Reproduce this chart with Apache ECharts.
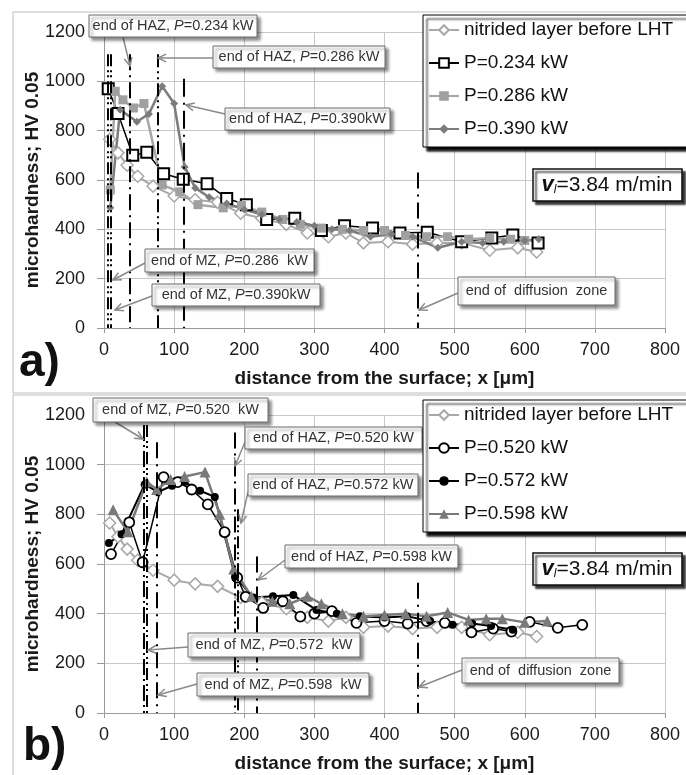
<!DOCTYPE html>
<html><head><meta charset="utf-8">
<script src="https://cdn.jsdelivr.net/npm/echarts@6/dist/echarts.min.js"></script>
<style>html,body{margin:0;padding:0;background:#fff}#c{width:686px;height:775px}</style>
</head><body><div id="c"></div><script>
// ---------- data ----------
const nitX = [8, 20, 33, 48, 70, 100, 130, 162, 195, 225, 260, 290, 320, 345, 370, 405, 440, 475, 510, 550, 590, 617];
const nitY = [765, 710, 660, 615, 575, 535, 520, 510, 465, 445, 420, 385, 370, 385, 345, 350, 340, 345, 345, 315, 325, 308];

const p234X = [6, 20, 41, 61, 85, 113, 147, 175, 203, 232, 272, 310, 343, 383, 422, 461, 510, 553, 583, 619];
const p234Y = [970, 870, 700, 712, 625, 603, 585, 525, 500, 440, 445, 395, 415, 405, 385, 388, 350, 365, 377, 345];

const p286X = [9, 16, 27, 42, 57, 83, 108, 134, 170, 196, 225, 255, 280, 310, 340, 370, 400, 430, 460, 490, 520, 550, 580, 600];
const p286Y = [560, 960, 925, 892, 910, 580, 552, 500, 487, 497, 470, 440, 420, 405, 400, 395, 395, 375, 370, 370, 360, 365, 360, 355];

const p390X = [9, 23, 47, 64, 83, 100, 115, 130, 150, 175, 200, 225, 250, 275, 300, 325, 350, 380, 410, 440, 476, 510, 540, 570, 600, 620];
const p390Y = [487, 885, 836, 868, 980, 910, 653, 568, 530, 505, 480, 460, 440, 430, 415, 400, 395, 370, 380, 370, 325, 350, 345, 350, 355, 360];

const p520X = [10, 36, 55, 85, 105, 125, 148, 172, 190, 202, 227, 255, 280, 300, 325, 360, 400, 433, 460, 486, 524, 555, 581, 607, 647, 682];
const p520Y = [640, 768, 607, 950, 930, 900, 840, 728, 545, 468, 423, 450, 388, 400, 410, 363, 370, 360, 370, 363, 325, 340, 328, 367, 343, 355];

const p572X = [7, 25, 58, 77, 97, 115, 137, 158, 187, 213, 241, 270, 303, 332, 365, 400, 432, 465, 497, 525, 552, 583];
const p572Y = [685, 720, 920, 890, 915, 930, 895, 870, 550, 465, 470, 475, 415, 400, 390, 385, 390, 370, 355, 360, 350, 335];

const p598X = [13, 34, 61, 75, 95, 115, 144, 165, 185, 210, 240, 265, 290, 310, 340, 370, 400, 430, 460, 490, 520, 545, 568, 600, 632];
const p598Y = [818, 730, 931, 900, 940, 952, 970, 800, 580, 470, 450, 440, 470, 440, 400, 390, 395, 400, 390, 405, 375, 380, 380, 365, 370];

// zone boundary lines (x position, upper end in HV)
const topZoneX = [6, 10, 37, 76, 114, 447];
const topZoneTop = [1110, 1110, 1110, 1110, 1010, 630];
const botZoneX = [57, 61, 75, 186, 191, 218, 447];
const botZoneTop = [1160, 1160, 1090, 1130, 820, 630, 525];

const xLabelName = 'distance from the surface; x [μm]';
const yLabelName = 'microhardness; HV 0.05';
const topNames = ['nitrided layer before LHT', 'P=0.234 kW', 'P=0.286 kW', 'P=0.390 kW'];
const botNames = ['nitrided layer before LHT', 'P=0.520 kW', 'P=0.572 kW', 'P=0.598 kW'];

// ---------- helpers ----------
const FF = '"Liberation Sans", Arial, sans-serif';
const pts = (xs, ys) => xs.map((x, i) => [x, ys[i]]);

const topDash = [[12,4,2,3,2,4],[12,4,2,3,2,4],[16,5,2,5],[13,4,2,4,2,4],[18,6,2,6],[16,6,2,6]];
const botDash = [[16,4,2,4],[12,4,2,3,2,4],[16,6,2,6],[16,5,2,5],[12,4,2,3,2,4],[16,6,2,6],[16,6,2,6]];

function zoneSeries(gi, xs, tops, dashes) {
  return {
    type: 'line', xAxisIndex: gi, yAxisIndex: gi, data: [], silent: true,
    markLine: {
      silent: true, symbol: ['none', 'none'], label: {show: false}, animation: false,
      data: xs.map((x, i) => [
        {coord: [x, tops[i]], lineStyle: {type: dashes[i], color: '#000', width: 2}},
        {coord: [x, 0]}
      ])
    }
  };
}

function xAx(gi) {
  return {
    type: 'value', gridIndex: gi, min: 0, max: 800, interval: 100,
    splitLine: {show: true, lineStyle: {color: '#c8c8c8', width: 1}},
    axisLine: {show: true, lineStyle: {color: '#9a9a9a', width: 1}},
    axisTick: {show: true, length: 5, lineStyle: {color: '#9a9a9a'}},
    axisLabel: {fontSize: 18, color: '#1a1a1a', margin: 13, fontFamily: FF, formatter: v => String(v)},
    name: xLabelName, nameLocation: 'middle', nameGap: 41, nameMoveOverlap: false,
    nameTextStyle: {fontSize: 19, fontWeight: 'bold', color: '#1a1a1a', fontFamily: FF}
  };
}
function yAx(gi) {
  return {
    type: 'value', gridIndex: gi, min: 0, max: 1200, interval: 200,
    splitLine: {show: true, lineStyle: {color: '#c8c8c8', width: 1}},
    axisLine: {show: true, lineStyle: {color: '#9a9a9a', width: 1}},
    axisTick: {show: true, length: 7, lineStyle: {color: '#9a9a9a'}},
    axisLabel: {fontSize: 18, color: '#1a1a1a', margin: 19, fontFamily: FF, formatter: v => String(v)},
    name: yLabelName, nameLocation: 'middle', nameGap: 62, nameMoveOverlap: false,
    nameTextStyle: {fontSize: 19, fontWeight: 'bold', color: '#1a1a1a', fontFamily: FF}
  };
}

function ser(gi, name, data, lineColor, lw, symbol, size, fill, border, bw) {
  return {
    type: 'line', name, xAxisIndex: gi, yAxisIndex: gi, data,
    symbol, symbolSize: size, showAllSymbol: true, animation: false,
    lineStyle: {color: lineColor, width: lw},
    itemStyle: {color: fill, borderColor: border, borderWidth: bw},
    emphasis: {disabled: true}
  };
}

function box(x, y, w, h, pre, post) {
  return {
    type: 'group', z: 100, children: [
      {type: 'rect', z: 100, shape: {x, y, width: w, height: h},
       style: {fill: '#fff', stroke: '#6a6a6a', lineWidth: 1, shadowBlur: 3, shadowOffsetX: 3, shadowOffsetY: 3, shadowColor: 'rgba(0,0,0,0.45)'}},
      {type: 'text', z: 101, x: x + w / 2, y: y + h / 2,
       style: {text: '{a|' + pre + '}' + (post !== undefined ? '{i|P}{a|' + post + '}' : ''),
         align: 'center', verticalAlign: 'middle',
         rich: {a: {fontSize: 14.5, fontFamily: FF, fill: '#333'}, i: {fontSize: 14.5, fontFamily: FF, fontStyle: 'italic', fill: '#333'}}}}
    ]
  };
}

function arrow(x1, y1, x2, y2) {
  const a = Math.atan2(y2 - y1, x2 - x1), L = 9, f = 0.45;
  const p1 = [x2 - L * Math.cos(a - f), y2 - L * Math.sin(a - f)];
  const p2 = [x2 - L * Math.cos(a + f), y2 - L * Math.sin(a + f)];
  return {type: 'group', z: 99, children: [
    {type: 'line', z: 99, shape: {x1, y1, x2, y2}, style: {stroke: '#8a8a8a', lineWidth: 1.5}},
    {type: 'polyline', z: 99, shape: {points: [p1, [x2, y2], p2]}, style: {stroke: '#8a8a8a', lineWidth: 1.5, fill: null}}
  ]};
}

function vbox(y) {
  return {type: 'group', z: 100, children: [
    {type: 'rect', z: 100, shape: {x: 533, y, width: 149, height: 32},
     style: {fill: '#fff', stroke: '#111', lineWidth: 1.5, shadowBlur: 2, shadowOffsetX: 3, shadowOffsetY: 3, shadowColor: 'rgba(0,0,0,0.8)'}},
    {type: 'text', z: 101, x: 607, y: y + 16,
     style: {text: '{v|v}{l|l}{t|=3.84 m/min}', align: 'center', verticalAlign: 'middle',
       rich: {v: {fontSize: 22, fontFamily: FF, fontStyle: 'italic', fontWeight: 'bold', fill: '#111'},
              l: {fontSize: 12, fontFamily: FF, fontStyle: 'italic', fill: '#111', padding: [10, 0, 0, 0]},
              t: {fontSize: 21, fontFamily: FF, fill: '#111'}}}}
  ]};
}

function legend(top, names) {
  return {
    orient: 'vertical', left: 423, top, data: names, selectedMode: false, z: 120,
    itemWidth: 30, itemHeight: 12, itemGap: 13, padding: [5, 24, 8, 5],
    backgroundColor: '#fff', borderColor: '#000', borderWidth: 1,
    shadowColor: 'rgba(0,0,0,0.95)', shadowBlur: 2, shadowOffsetX: 4, shadowOffsetY: 4,
    textStyle: {fontSize: 19, color: '#111', lineHeight: 20, fontFamily: FF}
  };
}

const series = [
  ser(0, topNames[0], pts(nitX, nitY), '#a8a8a8', 2, 'diamond', 12, '#fff', '#a8a8a8', 1.5),
  ser(0, topNames[1], pts(p234X, p234Y), '#000', 1.5, 'rect', 11, '#fff', '#000', 2),
  ser(0, topNames[2], pts(p286X, p286Y), '#a6a6a6', 2.5, 'rect', 9, '#a0a0a0', '#a0a0a0', 0),
  ser(0, topNames[3], pts(p390X, p390Y), '#7c7c7c', 2.5, 'diamond', 8, '#7c7c7c', '#7c7c7c', 0),
  ser(1, botNames[0], pts(nitX, nitY), '#a8a8a8', 2, 'diamond', 12, '#fff', '#a8a8a8', 1.5),
  ser(1, botNames[1], pts(p520X, p520Y), '#000', 1.5, 'circle', 10, '#fff', '#000', 1.8),
  ser(1, botNames[2], pts(p572X, p572Y), '#000', 2, 'circle', 8, '#000', '#000', 0),
  ser(1, botNames[3], pts(p598X, p598Y), '#7a7a7a', 2.5, 'triangle', 11, '#7a7a7a', '#7a7a7a', 0),
  zoneSeries(0, topZoneX, topZoneTop, topDash),
  zoneSeries(1, botZoneX, botZoneTop, botDash)
];

const graphic = [
  {type: 'rect', z: -10, silent: true, shape: {x: 13, y: 12, width: 690, height: 381}, style: {fill: null, stroke: '#bdbdbd', lineWidth: 1}},
  {type: 'rect', z: -10, silent: true, shape: {x: 13, y: 395, width: 690, height: 400}, style: {fill: null, stroke: '#bdbdbd', lineWidth: 1}},
  // top panel annotations
  arrow(123, 37, 130, 66), box(89, 15, 168, 22, 'end of HAZ, ', '=0.234 kW'),
  arrow(213, 58, 158, 58), box(213, 46, 172, 22, 'end of HAZ, ', '=0.286 kW'),
  arrow(225, 114, 186, 105), box(225, 108, 165, 22, 'end of HAZ, ', '=0.390kW'),
  arrow(145, 263, 113, 280), box(145, 249, 169, 23, 'end of MZ, ', '=0.286  kW'),
  arrow(152, 296, 115, 310), box(152, 284, 168, 22, 'end of MZ, ', '=0.390kW'),
  arrow(458, 293, 419, 310), box(458, 277, 157, 28, 'end of  diffusion  zone'),
  vbox(169),
  {type: 'text', z: 100, x: 19, y: 340, style: {text: 'a)', font: 'bold 46px ' + FF, fill: '#111'}},
  // bottom panel annotations
  arrow(115, 422, 143, 439), box(93, 398, 175, 24, 'end of MZ, ', '=0.520  kW'),
  arrow(245, 442, 235, 466), box(245, 427, 177, 22, 'end of HAZ, ', '=0.520 kW'),
  arrow(248, 492, 241, 523), box(248, 474, 170, 22, 'end of HAZ, ', '=0.572 kW'),
  arrow(285, 560, 258, 580), box(285, 545, 173, 23, 'end of HAZ, ', '=0.598 kW'),
  arrow(188, 647, 148, 650), box(188, 633, 172, 24, 'end of MZ, ', '=0.572  kW'),
  arrow(197, 684, 158, 695), box(197, 673, 172, 23, 'end of MZ, ', '=0.598  kW'),
  arrow(462, 670, 419, 687), box(462, 658, 157, 25, 'end of  diffusion  zone'),
  vbox(553),
  {type: 'text', z: 100, x: 23, y: 724, style: {text: 'b)', font: 'bold 46px ' + FF, fill: '#111'}}
];

const chart = echarts.init(document.getElementById('c'), null, {renderer: 'canvas'});
chart.setOption({
  animation: false,
  backgroundColor: '#fff',
  textStyle: {fontFamily: FF},
  grid: [
    {left: 104, top: 32, width: 561, height: 296},
    {left: 104, top: 415, width: 561, height: 298}
  ],
  xAxis: [xAx(0), xAx(1)],
  yAxis: [yAx(0), yAx(1)],
  legend: [legend(15, topNames), legend(400, botNames)],
  series,
  graphic
});
</script></body></html>
